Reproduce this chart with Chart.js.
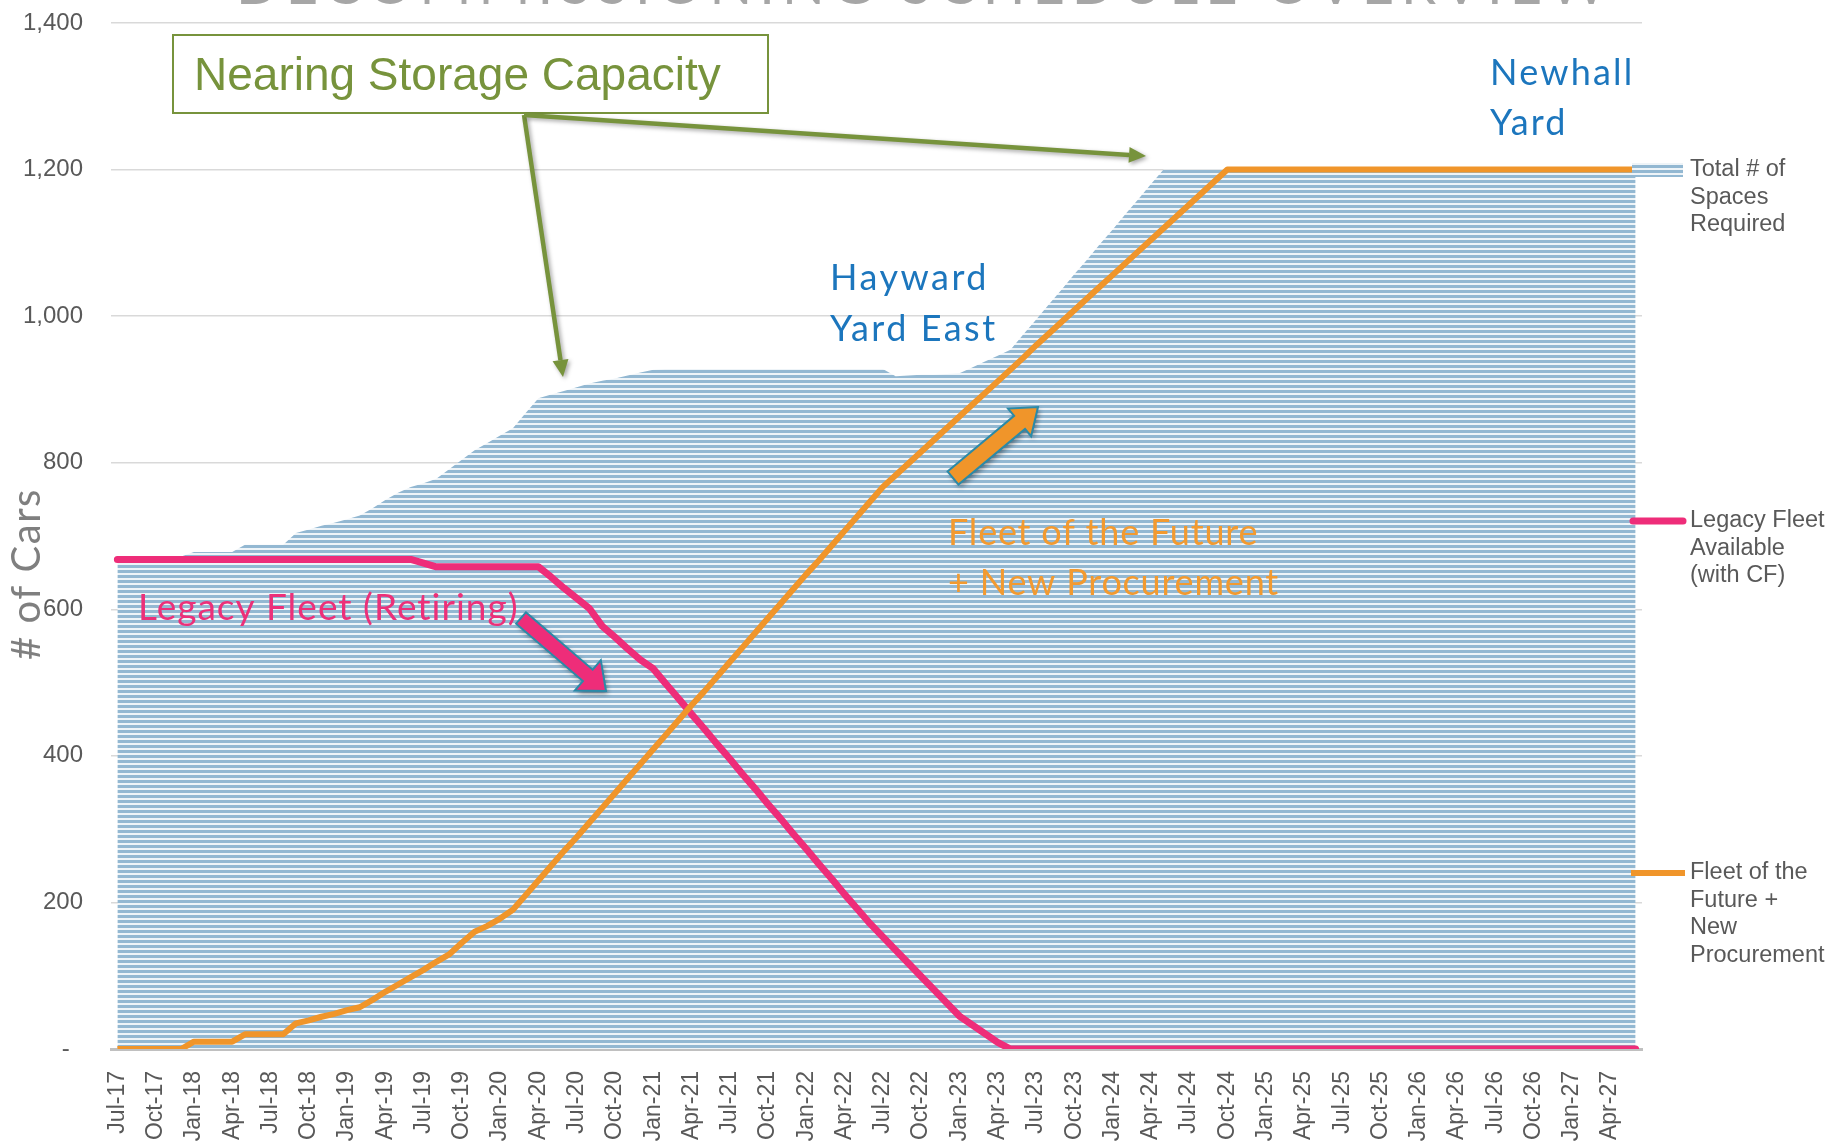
<!DOCTYPE html>
<html>
<head>
<meta charset="utf-8">
<script src="https://cdn.jsdelivr.net/npm/chart.js@4.4.1/dist/chart.umd.min.js"></script>
<style>
  html, body { margin: 0; padding: 0; background: #fff; }
  #wrap { width: 1829px; height: 1141px; }
</style>
</head>
<body>
<div id="wrap"><canvas id="chart" width="1829" height="1141"></canvas></div>
<script>
// months Jul-17 .. Jun-27
const MONTHS = ['Jan', 'Feb', 'Mar', 'Apr', 'May', 'Jun', 'Jul', 'Aug', 'Sep', 'Oct', 'Nov', 'Dec'];
const labels = [];
for (let k = 0; k < 120; k++) {
    const m = (6 + k) % 12;
    const yr = 17 + Math.floor((6 + k) / 12);
    labels.push(MONTHS[m] + '-' + yr);
}

const spacesRequired = [
    672, 672, 672, 672, 672, 672, 678, 678, 678, 678, 688, 688,
    688, 688, 704, 709, 714, 718, 723, 728, 738, 749, 759, 767,
    772, 778, 791, 804, 817, 827, 837, 847, 868, 888, 893, 898,
    903, 908, 912, 915, 919, 923, 927, 928, 928, 928, 928, 928,
    928, 928, 928, 928, 928, 928, 928, 928, 928, 928, 928, 928,
    928, 918, 919, 920, 920, 921, 922, 930, 938, 946, 954, 975,
    995, 1016, 1036, 1057, 1077, 1098, 1118, 1139, 1159, 1180, 1200, 1200,
    1200, 1200, 1200, 1200, 1200, 1200, 1200, 1200, 1200, 1200, 1200, 1200,
    1200, 1200, 1200, 1200, 1200, 1200, 1200, 1200, 1200, 1200, 1200, 1200,
    1200, 1200, 1200, 1200, 1200, 1200, 1200, 1200, 1200, 1200, 1200, 1200
];

const legacyFleet = [
    668, 668, 668, 668, 668, 668, 668, 668, 668, 668, 668, 668,
    668, 668, 668, 668, 668, 668, 668, 668, 668, 668, 668, 668,
    663, 658, 658, 658, 658, 658, 658, 658, 658, 658, 644, 629,
    615, 601, 577, 562, 546, 531, 519, 498, 478, 457, 437, 416,
    396, 375, 355, 334, 314, 293, 273, 252, 232, 211, 191, 171,
    153, 135, 117, 99, 81, 63, 45, 33, 21, 9, 0, 0,
    0, 0, 0, 0, 0, 0, 0, 0, 0, 0, 0, 0,
    0, 0, 0, 0, 0, 0, 0, 0, 0, 0, 0, 0,
    0, 0, 0, 0, 0, 0, 0, 0, 0, 0, 0, 0,
    0, 0, 0, 0, 0, 0, 0, 0, 0, 0, 0, 0
];

const futureFleet = [
    0, 0, 0, 0, 0, 0, 10, 10, 10, 10, 20, 20,
    20, 20, 35, 39, 44, 48, 53, 57, 67, 78, 88, 98,
    108, 119, 129, 145, 160, 168, 178, 190, 210, 230, 250, 270,
    289, 309, 329, 349, 369, 389, 409, 429, 449, 469, 488, 508,
    528, 548, 568, 588, 608, 628, 648, 667, 687, 707, 727, 747,
    767, 783, 799, 815, 831, 847, 863, 879, 895, 911, 927, 943,
    960, 976, 992, 1008, 1024, 1040, 1056, 1072, 1088, 1104, 1120, 1136,
    1152, 1168, 1184, 1200, 1200, 1200, 1200, 1200, 1200, 1200, 1200, 1200,
    1200, 1200, 1200, 1200, 1200, 1200, 1200, 1200, 1200, 1200, 1200, 1200,
    1200, 1200, 1200, 1200, 1200, 1200, 1200, 1200, 1200, 1200, 1200, 1200
];

const seriesNames = [
    ['Total # of', 'Spaces', 'Required'],
    ['Legacy Fleet', 'Available', '(with CF)'],
    ['Fleet of the', 'Future +', 'New', 'Procurement']
];

const PINK = '#ee2d79';
const ORANGE = '#f0952a';
const GREEN = '#77933c';
const BLUE_TXT = '#1c76bd';

// horizontal stripe fill
function stripePattern(ctx) {
    const c = document.createElement('canvas');
    c.width = 8;
    c.height = 5;
    const p = c.getContext('2d');
    p.fillStyle = '#eef4f8';
    p.fillRect(0, 0, 8, 5);
    p.fillStyle = '#93b8d2';
    p.fillRect(0, 0, 8, 3);
    return ctx.createPattern(c, 'repeat');
}

function drawText(ctx, txt, x, y, font, color, spacing) {
    ctx.save();
    ctx.font = font;
    ctx.fillStyle = color;
    ctx.textBaseline = 'alphabetic';
    ctx.textAlign = 'left';
    ctx.letterSpacing = (spacing || 0) + 'px';
    ctx.fillText(txt, x, y);
    ctx.restore();
}

function greenArrow(ctx, x0, y0, x1, y1) {
    const ang = Math.atan2(y1 - y0, x1 - x0);
    const hl = 17, hw = 8;
    const bx = x1 - Math.cos(ang) * hl, by = y1 - Math.sin(ang) * hl;
    ctx.save();
    ctx.shadowColor = 'rgba(0,0,0,0.35)';
    ctx.shadowBlur = 4;
    ctx.shadowOffsetX = 2;
    ctx.shadowOffsetY = 2;
    ctx.strokeStyle = GREEN;
    ctx.fillStyle = GREEN;
    ctx.lineWidth = 4.5;
    ctx.beginPath();
    ctx.moveTo(x0, y0);
    ctx.lineTo(bx, by);
    ctx.stroke();
    ctx.beginPath();
    ctx.moveTo(x1, y1);
    ctx.lineTo(bx + Math.sin(ang) * hw, by - Math.cos(ang) * hw);
    ctx.lineTo(bx - Math.sin(ang) * hw, by + Math.cos(ang) * hw);
    ctx.closePath();
    ctx.fill();
    ctx.restore();
}

function blockArrow(ctx, x0, y0, x1, y1, sw, hw, hl, fill) {
    const ang = Math.atan2(y1 - y0, x1 - x0);
    const len = Math.hypot(x1 - x0, y1 - y0);
    ctx.save();
    ctx.translate(x0, y0);
    ctx.rotate(ang);
    ctx.shadowColor = 'rgba(0,0,0,0.4)';
    ctx.shadowBlur = 5;
    ctx.shadowOffsetX = 2;
    ctx.shadowOffsetY = 3;
    ctx.beginPath();
    ctx.moveTo(0, -sw / 2);
    ctx.lineTo(len - hl, -sw / 2);
    ctx.lineTo(len - hl, -hw / 2);
    ctx.lineTo(len, 0);
    ctx.lineTo(len - hl, hw / 2);
    ctx.lineTo(len - hl, sw / 2);
    ctx.lineTo(0, sw / 2);
    ctx.closePath();
    ctx.fillStyle = fill;
    ctx.fill();
    ctx.shadowColor = 'transparent';
    ctx.strokeStyle = '#2a8aa8';
    ctx.lineWidth = 2;
    ctx.stroke();
    ctx.restore();
}

// stop the scales from adding label overhang to the plot margins
function noScalePadding(s) {
    s.paddingTop = 0;
    s.paddingBottom = 0;
    s.paddingLeft = 0;
    s.paddingRight = 0;
}

const decor = {
    id: 'decor',
    afterDraw(chart) {
        const ctx = chart.ctx;

        // cut-off slide title
        ctx.save();
        ctx.font = '56px Lato';
        ctx.fillStyle = '#a6a6a6';
        ctx.textAlign = 'center';
        ctx.textBaseline = 'alphabetic';
        ctx.letterSpacing = '7px';
        ctx.fillText('DECOMMISSIONING SCHEDULE OVERVIEW', 925, 4);
        ctx.restore();

        // y axis title
        ctx.save();
        ctx.translate(27, 574);
        ctx.rotate(-Math.PI / 2);
        ctx.font = '40px Lato';
        ctx.fillStyle = '#7f7f7f';
        ctx.textAlign = 'center';
        ctx.textBaseline = 'middle';
        ctx.letterSpacing = '1.5px';
        ctx.fillText('# of Cars', 0, 0);
        ctx.restore();

        // legend on the right
        ctx.save();
        ctx.fillStyle = chart.data.datasets[0].backgroundColor;
        ctx.fillRect(1632, 163, 51, 14);
        ctx.lineWidth = 7;
        ctx.lineCap = 'round';
        ctx.strokeStyle = PINK;
        ctx.beginPath();
        ctx.moveTo(1633, 521);
        ctx.lineTo(1683, 521);
        ctx.stroke();
        ctx.lineCap = 'butt';
        ctx.lineWidth = 6;
        ctx.strokeStyle = ORANGE;
        ctx.beginPath();
        ctx.moveTo(1631, 873);
        ctx.lineTo(1685, 873);
        ctx.stroke();
        ctx.font = '23.5px "Liberation Sans"';
        ctx.fillStyle = '#595959';
        ctx.textBaseline = 'middle';
        const legendTop = [170, 521, 873];
        seriesNames.forEach((lines, s) => {
            lines.forEach((ln, j) => ctx.fillText(ln, 1690, legendTop[s] + j * 27.5));
        });
        ctx.restore();

        // nearing storage capacity box + arrows
        ctx.save();
        ctx.fillStyle = '#fff';
        ctx.fillRect(173, 35, 595, 78);
        ctx.strokeStyle = GREEN;
        ctx.lineWidth = 2;
        ctx.strokeRect(173, 35, 595, 78);
        ctx.restore();
        drawText(ctx, 'Nearing Storage Capacity', 194, 90, '46px "Liberation Sans"', GREEN, 0);
        greenArrow(ctx, 524, 115, 563, 377);
        greenArrow(ctx, 524, 115, 1146, 156);

        drawText(ctx, 'Hayward', 830, 290, '36px Lato', BLUE_TXT, 2.5);
        drawText(ctx, 'Yard East', 830, 341, '36px Lato', BLUE_TXT, 2.5);
        drawText(ctx, 'Newhall', 1490, 85, '36px Lato', BLUE_TXT, 2.2);
        drawText(ctx, 'Yard', 1490, 135, '36px Lato', BLUE_TXT, 2.2);

        drawText(ctx, 'Legacy Fleet (Retiring)', 138, 620, '37px Lato', '#ec3079', 1);
        blockArrow(ctx, 521, 618, 606, 691, 15, 40, 24, PINK);

        drawText(ctx, 'Fleet of the Future', 948, 545, '36px Lato', '#f29a30', 0.8);
        drawText(ctx, '+ New Procurement', 948, 595, '36px Lato', '#f29a30', 0.8);
        blockArrow(ctx, 953, 478, 1038, 407, 17, 36, 24, ORANGE);
    }
};

const canvas = document.getElementById('chart');
const ctx = canvas.getContext('2d');
const stripes = stripePattern(ctx);

new Chart(ctx, {
    type: 'line',
    data: {
        labels: labels,
        datasets: [{
            label: 'Total # of Spaces Required',
            data: spacesRequired,
            order: 3,
            fill: 'origin',
            backgroundColor: stripes,
            borderWidth: 0,
            pointRadius: 0,
            tension: 0
        }, {
            label: 'Legacy Fleet Available (with CF)',
            data: legacyFleet,
            order: 2,
            fill: false,
            borderColor: PINK,
            borderWidth: 7,
            borderCapStyle: 'round',
            borderJoinStyle: 'round',
            pointRadius: 0,
            tension: 0
        }, {
            label: 'Fleet of the Future + New Procurement',
            data: futureFleet,
            order: 1,
            fill: false,
            borderColor: ORANGE,
            borderWidth: 6,
            borderJoinStyle: 'round',
            pointRadius: 0,
            tension: 0
        }]
    },
    options: {
        responsive: false,
        animation: false,
        layout: { padding: { top: 23, right: 187, left: 0, bottom: 0 } },
        plugins: {
            legend: { display: false },
            tooltip: { enabled: false }
        },
        scales: {
            x: {
                type: 'category',
                offset: true,
                grid: { display: false },
                border: { display: true, color: '#c0c0c0', width: 3 },
                ticks: {
                    autoSkip: false,
                    maxRotation: 90,
                    minRotation: 90,
                    padding: 14,
                    color: '#595959',
                    font: { family: '"Liberation Sans"', size: 23 },
                    callback: (v, i) => (i % 3 === 0 ? labels[i] : '')
                },
                afterFit: (s) => { s.height = 92; noScalePadding(s); }
            },
            y: {
                min: 0,
                max: 1400,
                grid: { color: '#d9d9d9', lineWidth: 1.5, drawTicks: false },
                border: { display: false },
                ticks: {
                    stepSize: 200,
                    padding: 28,
                    color: '#595959',
                    font: { family: '"Liberation Sans"', size: 24 },
                    callback: (v) => (v === 0 ? '-  ' : v.toLocaleString('en-US'))
                },
                afterFit: (s) => { s.width = 111; noScalePadding(s); }
            }
        }
    },
    plugins: [decor]
});
</script>
</body>
</html>
